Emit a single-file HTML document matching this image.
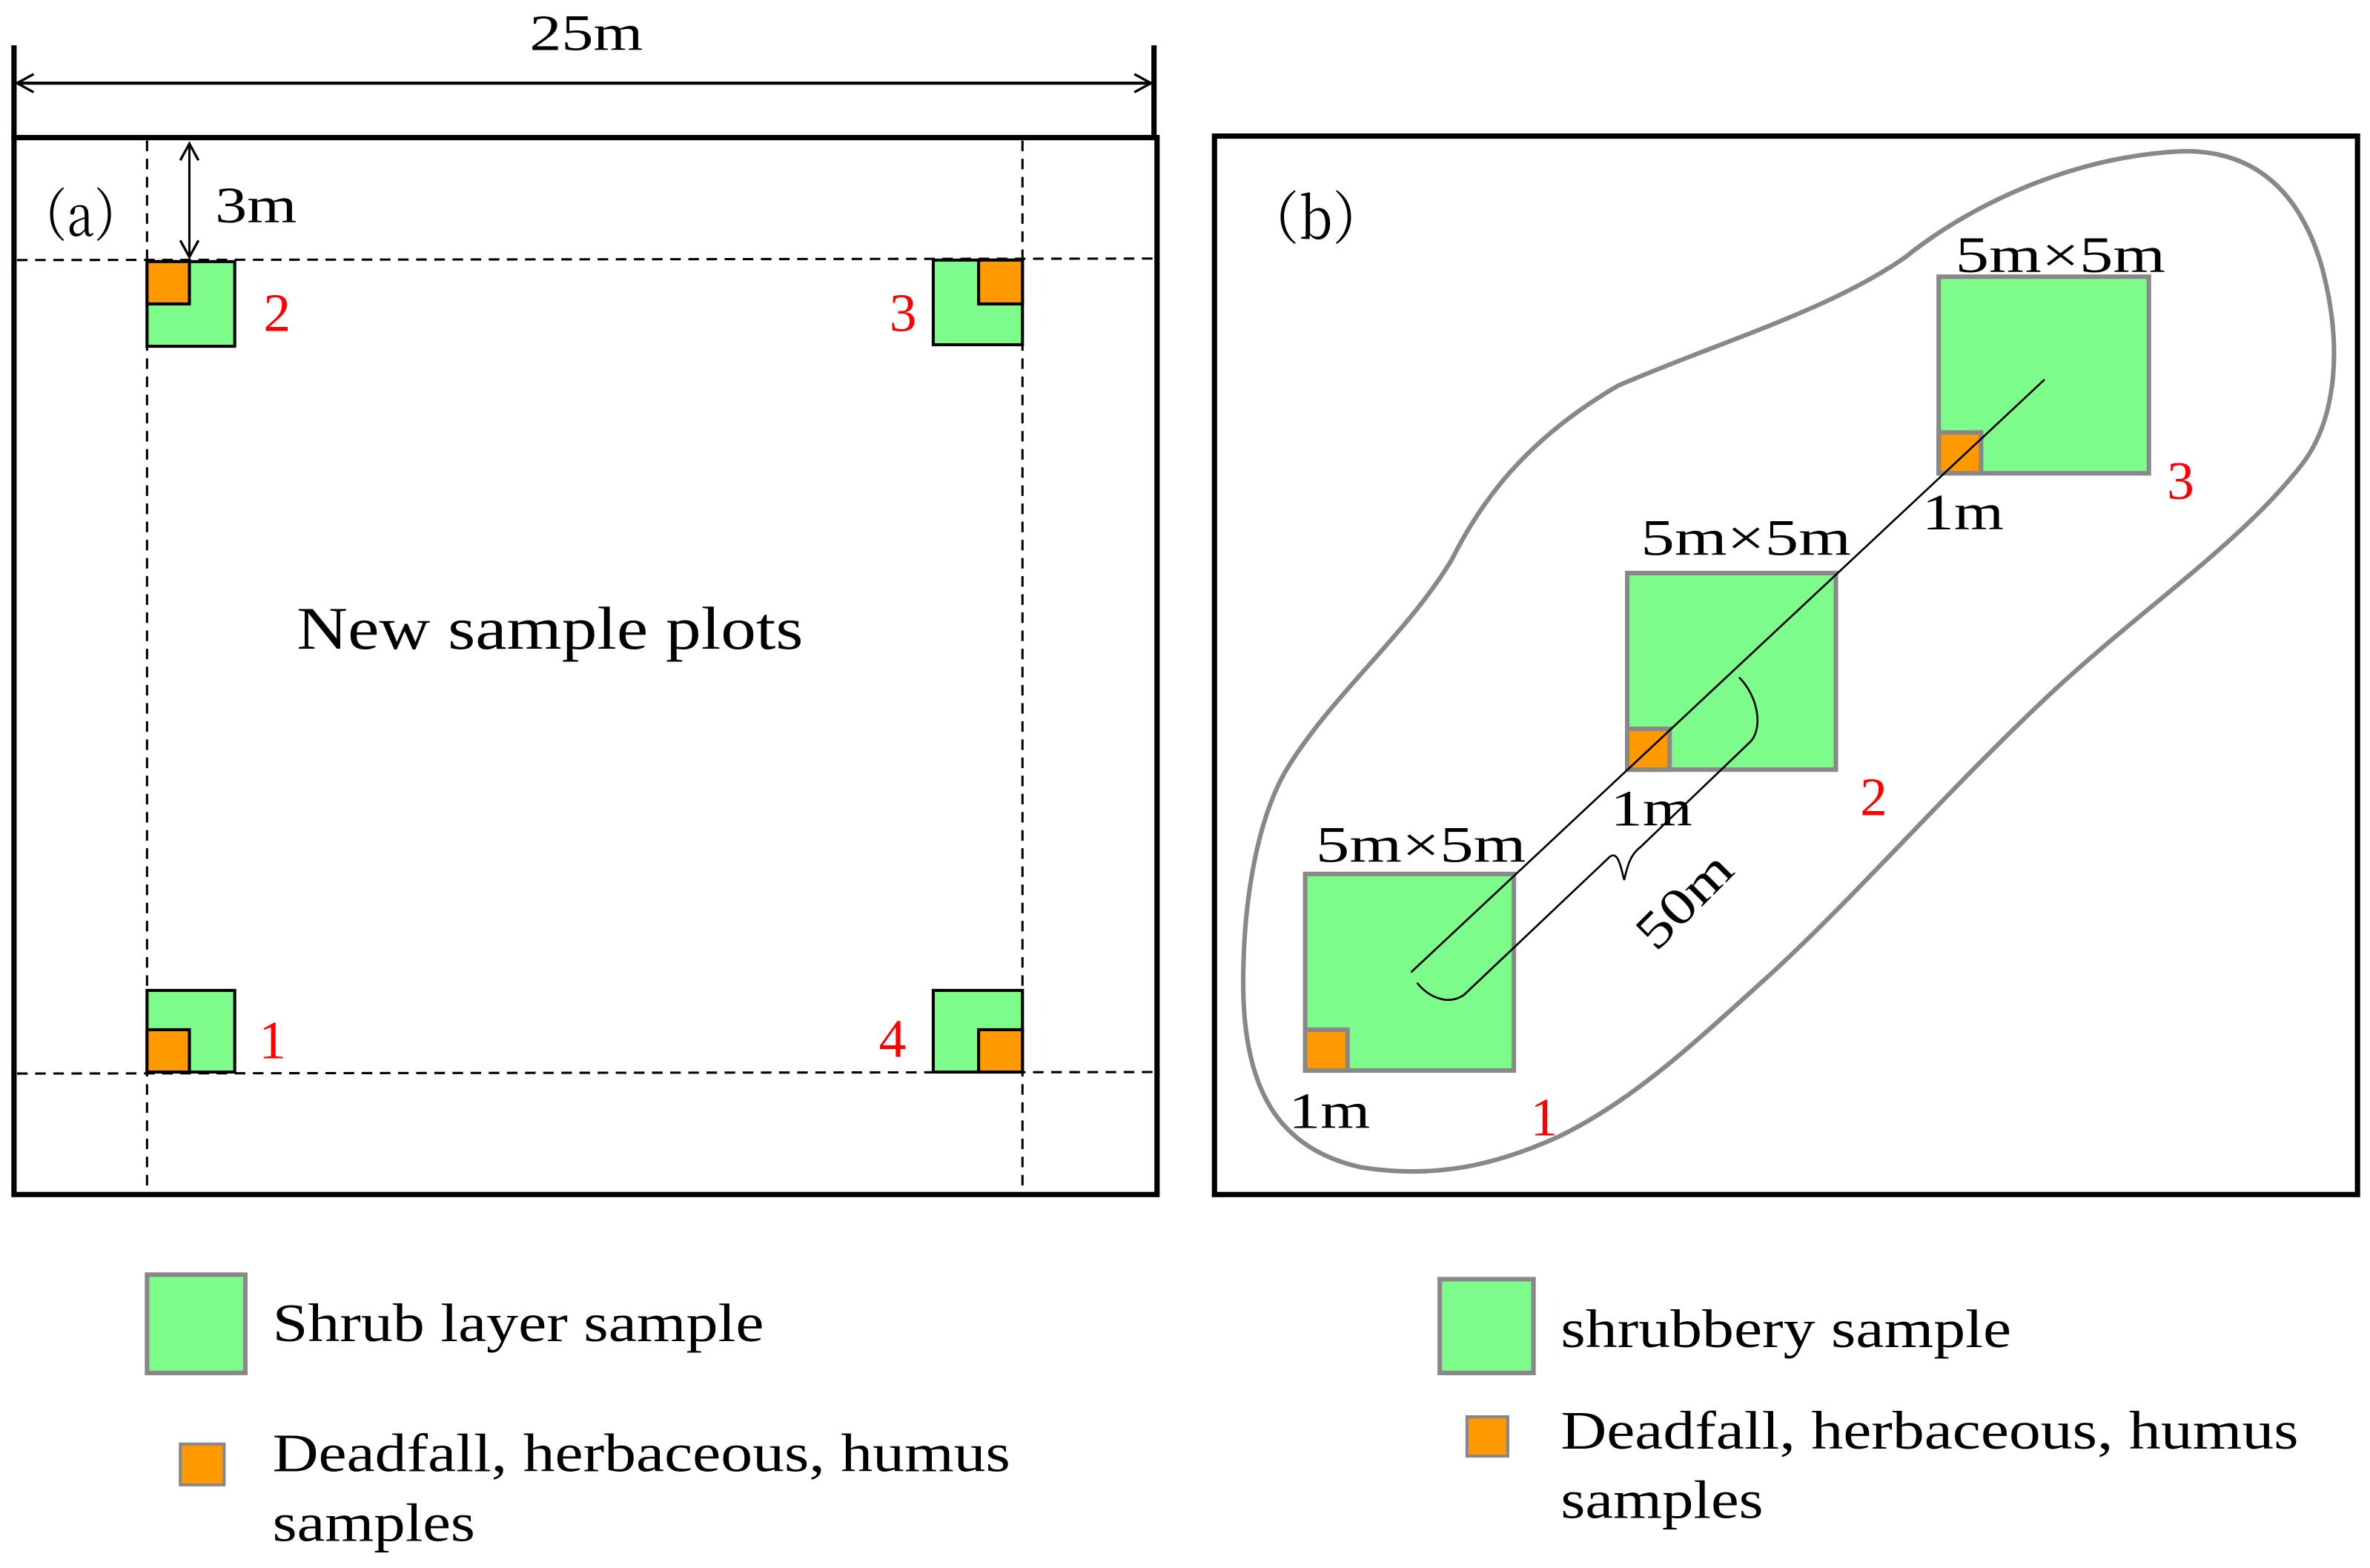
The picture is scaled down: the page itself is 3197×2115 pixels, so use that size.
<!DOCTYPE html>
<html><head><meta charset="utf-8"><style>html,body{margin:0;padding:0;background:#fff}svg{display:block}</style></head>
<body>
<svg width="3197" height="2115" viewBox="0 0 1567 1037" xmlns="http://www.w3.org/2000/svg" font-family="'Liberation Serif', serif">
<defs><marker id="ar" markerWidth="14" markerHeight="14" refX="12" refY="7" orient="auto-start-reverse" markerUnits="userSpaceOnUse"><path d="M1,1 L12,7 L1,13" fill="none" stroke="#000" stroke-width="1.6"/></marker></defs>
<!-- panel a -->
<line x1="9" y1="30" x2="9" y2="92" stroke="#000" stroke-width="3.5"/>
<line x1="763" y1="30" x2="763" y2="92" stroke="#000" stroke-width="3.5"/>
<line x1="11" y1="55" x2="761" y2="55" stroke="#000" stroke-width="2" marker-end="url(#ar)" marker-start="url(#ar)"/>
<text x="350" y="33" font-size="34" textLength="75" lengthAdjust="spacingAndGlyphs">25m</text>
<rect x="9" y="91" width="756" height="699" fill="none" stroke="#000" stroke-width="3.5"/>
<g stroke="#000" stroke-width="1.5" stroke-dasharray="7,5">
<line x1="97" y1="93" x2="97" y2="788"/><line x1="676" y1="93" x2="676" y2="788"/>
<line x1="11" y1="172" x2="762" y2="171"/><line x1="11" y1="710" x2="762" y2="709"/>
</g>
<line x1="125" y1="95" x2="125" y2="170" stroke="#000" stroke-width="1.5" marker-end="url(#ar)" marker-start="url(#ar)"/>
<text x="142" y="147" font-size="34" textLength="54" lengthAdjust="spacingAndGlyphs">3m</text>
<text x="12" y="156" font-size="38" font-family="'Noto Serif CJK SC', serif" textLength="82" lengthAdjust="spacingAndGlyphs">（a）</text>
<g stroke="#000" stroke-width="2">
<rect x="97" y="173" width="58" height="56" fill="#7dfc8c"/><rect x="97" y="173" width="28" height="28" fill="#ff9900"/>
<rect x="617" y="172" width="59" height="56" fill="#7dfc8c"/><rect x="647" y="172" width="29" height="29" fill="#ff9900"/>
<rect x="97" y="655" width="58" height="54" fill="#7dfc8c"/><rect x="97" y="681" width="28" height="28" fill="#ff9900"/>
<rect x="617" y="655" width="59" height="54" fill="#7dfc8c"/><rect x="647" y="681" width="29" height="28" fill="#ff9900"/>
</g>
<g fill="#ff0000" font-size="36">
<text x="174" y="219">2</text><text x="588" y="219">3</text><text x="171" y="700">1</text><text x="581" y="699">4</text>
</g>
<text x="196" y="429" font-size="40" textLength="335" lengthAdjust="spacingAndGlyphs">New sample plots</text>
<!-- panel b -->
<rect x="803" y="90" width="756" height="700" fill="none" stroke="#000" stroke-width="3.5"/>
<path d="M850,510 C830,545 822,600 822,650 C822,720 845,760 900,772 C950,780 990,770 1030,752 C1080,728 1120,690 1170,645 C1230,590 1290,520 1360,455 C1420,400 1480,360 1520,310 C1545,280 1550,230 1535,175 C1520,125 1490,100 1445,100 C1380,102 1310,130 1260,170 C1210,205 1140,225 1070,255 C1010,290 980,330 960,370 C930,420 880,460 850,510 Z" fill="none" stroke="#888" stroke-width="3"/>
<g stroke="#888" stroke-width="3">
<rect x="1282" y="183" width="139" height="130" fill="#7dfc8c"/><rect x="1282" y="286" width="28" height="27" fill="#ff9900"/>
<rect x="1076" y="379" width="138" height="130" fill="#7dfc8c"/><rect x="1076" y="482" width="28" height="27" fill="#ff9900"/>
<rect x="863" y="578" width="138" height="130" fill="#7dfc8c"/><rect x="863" y="681" width="28" height="27" fill="#ff9900"/>
</g>
<line x1="933" y1="643" x2="1352" y2="251" stroke="#000" stroke-width="1.3"/>
<path d="M937,650 C945,660 958,665 968,658 L1063,568 C1070,560 1072,575 1074,582 C1076,573 1078,565 1085,560 L1158,490 C1166,480 1162,460 1150,448" fill="none" stroke="#000" stroke-width="1.3"/>
<text x="0" y="0" font-size="34" textLength="75" lengthAdjust="spacingAndGlyphs" transform="translate(1095,630) rotate(-45)">50m</text>
<text x="824" y="158" font-size="38" font-family="'Noto Serif CJK SC', serif" textLength="92" lengthAdjust="spacingAndGlyphs">（b）</text>
<g font-size="34">
<text x="1293" y="180" textLength="139" lengthAdjust="spacingAndGlyphs">5m×5m</text>
<text x="1085" y="367" textLength="139" lengthAdjust="spacingAndGlyphs">5m×5m</text>
<text x="870" y="570" textLength="139" lengthAdjust="spacingAndGlyphs">5m×5m</text>
<text x="1271" y="350" textLength="54" lengthAdjust="spacingAndGlyphs">1m</text>
<text x="1065" y="546" textLength="54" lengthAdjust="spacingAndGlyphs">1m</text>
<text x="852" y="746" textLength="54" lengthAdjust="spacingAndGlyphs">1m</text>
</g>
<g fill="#ff0000" font-size="36">
<text x="1433" y="330">3</text><text x="1230" y="539">2</text><text x="1012" y="751">1</text>
</g>
<!-- legend -->
<rect x="97" y="843" width="65" height="65" fill="#7dfc8c" stroke="#888" stroke-width="3"/>
<text x="180" y="887" font-size="36" textLength="325" lengthAdjust="spacingAndGlyphs">Shrub layer sample</text>
<rect x="119" y="955" width="29" height="27" fill="#ff9900" stroke="#888" stroke-width="2"/>
<text x="180" y="973" font-size="36" textLength="488" lengthAdjust="spacingAndGlyphs">Deadfall, herbaceous, humus</text>
<text x="180" y="1019" font-size="36" textLength="134" lengthAdjust="spacingAndGlyphs">samples</text>
<rect x="952" y="846" width="62" height="62" fill="#7dfc8c" stroke="#888" stroke-width="3"/>
<text x="1032" y="891" font-size="36" textLength="298" lengthAdjust="spacingAndGlyphs">shrubbery sample</text>
<rect x="970" y="937" width="27" height="26" fill="#ff9900" stroke="#888" stroke-width="2"/>
<text x="1032" y="958" font-size="36" textLength="488" lengthAdjust="spacingAndGlyphs">Deadfall, herbaceous, humus</text>
<text x="1032" y="1004" font-size="36" textLength="134" lengthAdjust="spacingAndGlyphs">samples</text>
</svg>
</body></html>
